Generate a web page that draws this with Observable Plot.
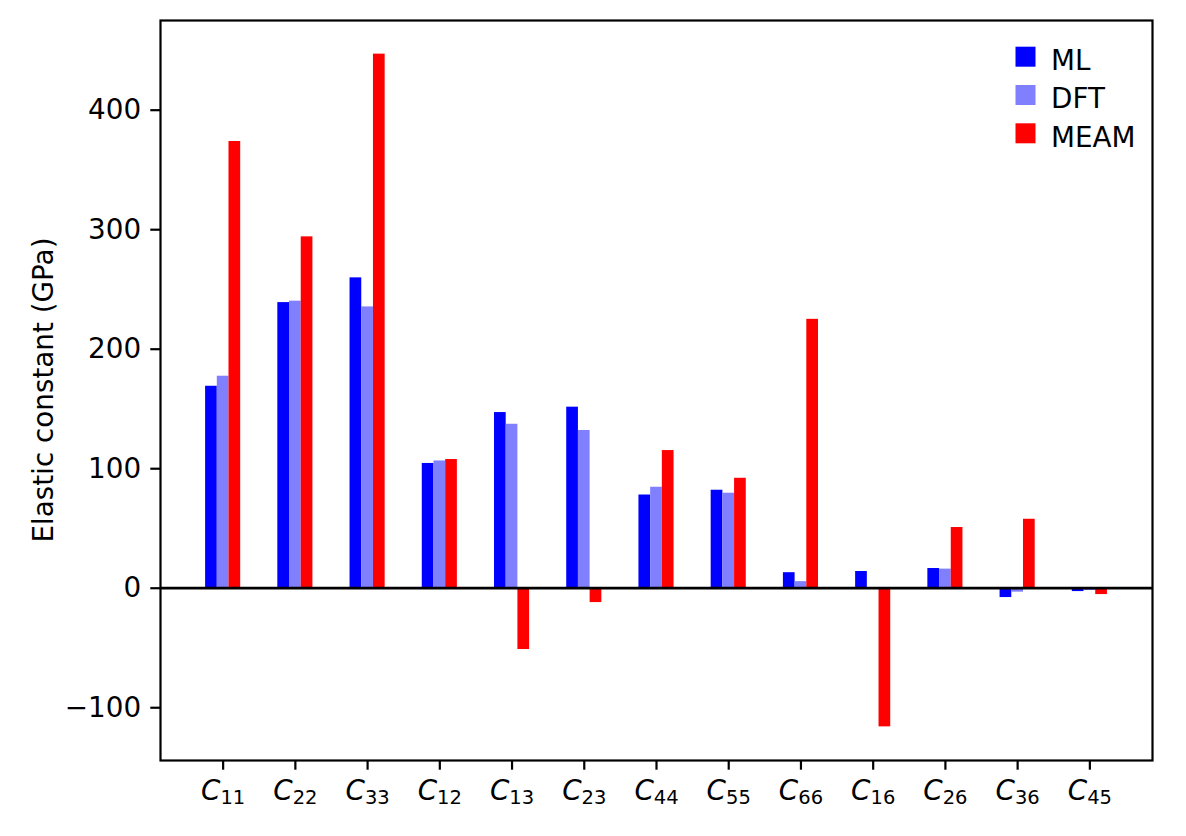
<!DOCTYPE html>
<html><head><meta charset="utf-8">
<script src="https://cdn.jsdelivr.net/npm/d3@7"></script>
<script src="https://cdn.jsdelivr.net/npm/@observablehq/plot@0.6"></script>
<style>body{margin:0;background:#fff;} svg{display:block}</style>
</head><body><div id="chart"></div>
<script>
const categories = ["11","22","33","12","13","23","44","55","66","16","26","36","45"];
const seriesNames = ["ML","DFT","MEAM"];
const seriesColors = ["#0000ff","#8080ff","#ff0000"];
const ml   = [169, 239, 259.7, 104.4, 147, 151.5, 78, 82, 13, 14, 16.5, -7.8, -2.8];
const dft  = [177.4, 240.2, 235.4, 106.5, 137.2, 132, 84.5, 79.5, 5.5, 0, 16, -3.3, -1.9];
const meam = [373.8, 294, 446.9, 107.7, -51.3, -12, 115.2, 92, 225, -116, 50.8, 57.7, -5.3];
const yTicks = [-100, 0, 100, 200, 300, 400];
const yLabel = "Elastic constant (GPa)";

const FS = 27.8;
const w = 0.162;
const offsets = [-w, 0, w];
const seriesVals = [ml, dft, meam];
const data = [];
seriesNames.forEach((s, j) => categories.forEach((c, i) => data.push({i, j, s, v: seriesVals[j][i]})));
const allVals = [...ml, ...dft, ...meam, 0];
const yMin = Math.min(...allVals), yMax = Math.max(...allVals);
const yPad = 0.05 * (yMax - yMin);
const xLo = -1.5 * w, xHi = categories.length - 1 + 1.5 * w;
const xPad = 0.05 * (xHi - xLo);

const chart = Plot.plot({
  width: 1186, height: 836,
  marginLeft: 160, marginRight: 34, marginTop: 20, marginBottom: 76,
  style: {fontFamily: "DejaVu Sans", fontSize: FS + "px", background: "#fff", color: "#000"},
  x: {domain: [xLo - xPad, xHi + xPad]},
  y: {domain: [yMin - yPad, yMax + yPad]},
  color: {type: "identity"},
  marks: [
    Plot.rectY(data, {
      x1: d => d.i + offsets[d.j] - w / 2,
      x2: d => d.i + offsets[d.j] + w / 2,
      y1: 0, y2: "v",
      fill: d => seriesColors[d.j]
    }),
    Plot.ruleY([0], {stroke: "#000", strokeWidth: 2.78}),
    Plot.axisY({ticks: yTicks, tickSize: 9.7, tickPadding: 9.7, strokeWidth: 2.2, fontSize: FS,
      tickFormat: d => d < 0 ? "\u2212" + Math.abs(d) : String(d), label: null}),
    Plot.axisX({ticks: d3.range(categories.length), tickSize: 9.7, tickPadding: 9.7, strokeWidth: 2.2, fontSize: FS,
      tickFormat: i => "C" + categories[i], label: null}),
    Plot.frame({stroke: "#000", strokeWidth: 2.2})
  ]
});
document.getElementById("chart").appendChild(chart);

const svg = d3.select(chart);
// subscripts for x tick labels
svg.selectAll('g[aria-label="x-axis tick label"] text').each(function() {
  const t = this.textContent;
  const sel = d3.select(this);
  sel.text(null);
  sel.append("tspan").attr("font-style", "italic").text(t[0]);
  sel.append("tspan").attr("font-size", 19.5).attr("dy", 4).text(t.slice(1));
});
// y label
svg.append("text")
  .attr("transform", "translate(53,390) rotate(-90)")
  .attr("text-anchor", "middle")
  .attr("font-size", FS)
  .attr("fill", "#000")
  .text(yLabel);
// legend
const lg = svg.append("g").attr("text-anchor", "start");
seriesNames.forEach((s, j) => {
  const yTop = 46.7 + j * 38.3;
  lg.append("rect").attr("x", 1015.5).attr("y", yTop).attr("width", 20).attr("height", 20).attr("fill", seriesColors[j]);
  lg.append("text").attr("x", 1051).attr("y", yTop + 23.3).attr("text-anchor", "start").attr("font-size", FS).attr("fill", "#000").text(s);
});
</script></body></html>
